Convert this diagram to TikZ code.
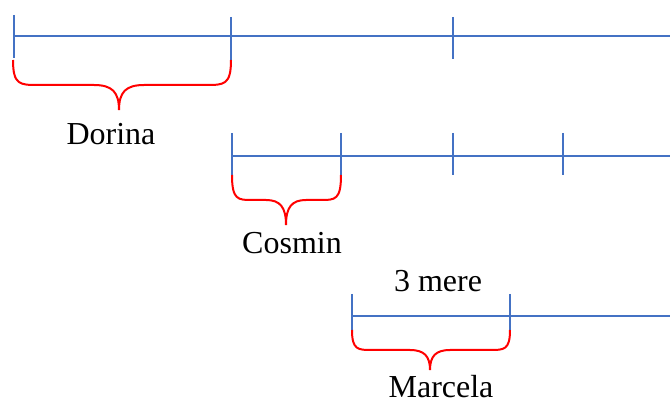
\documentclass[tikz,border=0pt]{standalone}
\usepackage{fontspec}
\setmainfont{Liberation Serif}
\definecolor{lineblue}{RGB}{68,114,196}
\definecolor{bracered}{RGB}{255,0,0}
\begin{document}
\begin{tikzpicture}[x=1pt,y=-1pt,
  axis/.style={draw=lineblue,line width=2pt},
  tick/.style={draw=lineblue,line width=2pt},
  brace/.style={draw=bracered,line width=2pt},
  lbl/.style={font=\fontsize{32}{38}\selectfont,anchor=base,inner sep=0pt,text depth=0pt}]
\useasboundingbox (0,0) rectangle (670,403);
% line 1
\coordinate (a1) at (14,36); \coordinate (a2) at (670,36);
\draw[axis] (a1) -- (a2);
\draw[tick] (14,15) -- (14,58);
\draw[tick] (231,17) -- (231,60);
\draw[tick] (453,17) -- (453,59);
\draw[brace] (13,60) .. controls (13,85) and (20,85) .. (38,85) -- (94,85) .. controls (112,85) and (119,92) .. (119,110)
  .. controls (119,92) and (126,85) .. (144,85) -- (206,85) .. controls (224,85) and (231,85) .. (231,60);
\node[lbl] (dorina) at (111,145) {Dorina};
% line 2
\coordinate (b1) at (231,156); \coordinate (b2) at (670,156);
\draw[axis] (b1) -- (b2);
\draw[tick] (232,133) -- (232,176);
\draw[tick] (341,133) -- (341,176);
\draw[tick] (453,133) -- (453,175);
\draw[tick] (563,133) -- (563,175);
\draw[brace] (232,175) .. controls (232,200) and (238,200) .. (252,200) -- (266,200) .. controls (280,200) and (286,207) .. (286,225)
  .. controls (286,207) and (292,200) .. (306,200) -- (321,200) .. controls (335,200) and (341,200) .. (341,175);
\node[lbl] (cosmin) at (292,254) {Cosmin};
% line 3
\coordinate (c1) at (352,316); \coordinate (c2) at (670,316);
\draw[axis] (c1) -- (c2);
\draw[tick] (352,294) -- (352,335);
\draw[tick] (510,294) -- (510,330);
\draw[brace] (352,330) .. controls (352,350) and (358,350) .. (372,350) -- (410,350) .. controls (424,350) and (430,356) .. (430,370)
  .. controls (430,356) and (436,350) .. (450,350) -- (490,350) .. controls (504,350) and (510,350) .. (510,330);
\node[lbl] (mere) at (438,292) {3 mere};
\node[lbl] (marcela) at (441,398) {Marcela};
\end{tikzpicture}
\end{document}
